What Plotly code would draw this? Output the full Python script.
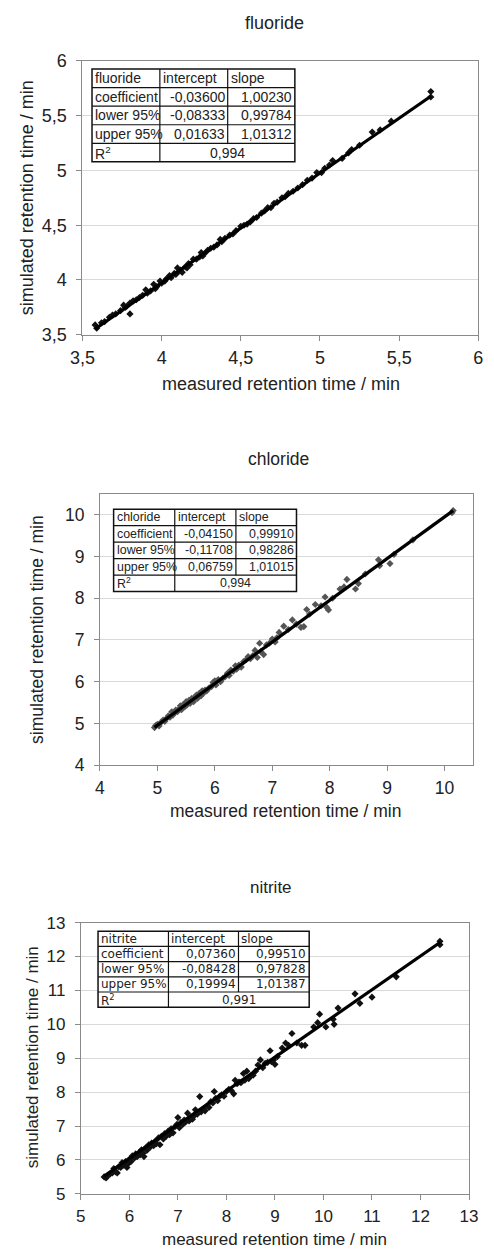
import plotly.graph_objects as go

W, H = 494, 1260

# ---------------- data ----------------
fluoride_measured = [3.58, 3.59, 3.62, 3.64, 3.67, 3.69, 3.71, 3.74, 3.76, 3.77, 3.78, 3.80, 3.80, 3.82, 3.84,
                     3.86, 3.88, 3.90, 3.91, 3.93, 3.95, 3.96, 3.97, 3.99, 4.00, 4.02, 4.03, 4.05, 4.06, 4.08,
                     4.09, 4.10, 4.11, 4.12, 4.13, 4.15, 4.16, 4.17, 4.18, 4.20, 4.22, 4.24, 4.25, 4.26, 4.27,
                     4.29, 4.31, 4.33, 4.35, 4.37, 4.38, 4.40, 4.43, 4.45, 4.47, 4.50, 4.52, 4.54, 4.56, 4.58,
                     4.60, 4.63, 4.65, 4.67, 4.69, 4.71, 4.73, 4.76, 4.78, 4.80, 4.83, 4.86, 4.89, 4.92, 4.95,
                     4.98, 5.01, 5.03, 5.06, 5.08, 5.14, 5.18, 5.20, 5.25, 5.33, 5.38, 5.45, 5.70, 5.70]
fluoride_simulated = [3.59, 3.56, 3.61, 3.62, 3.66, 3.68, 3.69, 3.72, 3.77, 3.75, 3.76, 3.69, 3.79, 3.81, 3.82,
                      3.84, 3.86, 3.91, 3.88, 3.90, 3.96, 3.92, 3.94, 3.99, 3.97, 3.99, 4.01, 4.04, 4.02, 4.06,
                      4.05, 4.11, 4.08, 4.09, 4.07, 4.12, 4.11, 4.15, 4.14, 4.19, 4.19, 4.21, 4.25, 4.22, 4.24,
                      4.27, 4.29, 4.30, 4.32, 4.37, 4.35, 4.38, 4.41, 4.42, 4.45, 4.49, 4.50, 4.51, 4.53, 4.56,
                      4.57, 4.61, 4.63, 4.66, 4.66, 4.70, 4.71, 4.75, 4.76, 4.79, 4.81, 4.84, 4.87, 4.91, 4.93,
                      4.98, 4.98, 5.02, 5.05, 5.09, 5.11, 5.16, 5.19, 5.23, 5.35, 5.37, 5.45, 5.72, 5.67]

chloride_measured = [4.95, 4.97, 5.00, 5.03, 5.06, 5.10, 5.13, 5.16, 5.19, 5.22, 5.25, 5.27, 5.30, 5.32, 5.35,
                     5.38, 5.40, 5.42, 5.45, 5.48, 5.50, 5.52, 5.55, 5.57, 5.60, 5.63, 5.65, 5.68, 5.70, 5.73,
                     5.76, 5.78, 5.80, 5.83, 5.86, 5.90, 5.94, 5.97, 6.00, 6.02, 6.06, 6.10, 6.14, 6.18, 6.22,
                     6.25, 6.28, 6.32, 6.36, 6.38, 6.42, 6.46, 6.50, 6.54, 6.58, 6.62, 6.66, 6.70, 6.74, 6.78,
                     6.80, 6.85, 6.90, 6.95, 7.00, 7.05, 7.08, 7.12, 7.20, 7.28, 7.35, 7.42, 7.50, 7.55, 7.60,
                     7.65, 7.75, 7.85, 7.92, 7.95, 7.98, 8.05, 8.18, 8.25, 8.30, 8.45, 8.50, 8.62, 8.85, 8.87,
                     9.05, 9.12, 9.45, 10.13, 10.15]
chloride_simulated = [4.90, 4.95, 4.98, 4.94, 5.02, 5.08, 5.05, 5.12, 5.18, 5.15, 5.28, 5.20, 5.25, 5.32, 5.28,
                      5.35, 5.42, 5.33, 5.45, 5.40, 5.52, 5.45, 5.55, 5.48, 5.60, 5.52, 5.62, 5.68, 5.60, 5.72,
                      5.66, 5.78, 5.72, 5.80, 5.78, 5.85, 5.88, 5.98, 6.02, 5.92, 6.05, 6.00, 6.08, 6.12, 6.20,
                      6.15, 6.28, 6.25, 6.38, 6.30, 6.40, 6.35, 6.48, 6.52, 6.60, 6.55, 6.62, 6.75, 6.58, 6.92,
                      6.72, 6.65, 6.88, 6.92, 7.02, 6.95, 7.05, 7.18, 7.33, 7.25, 7.48, 7.38, 7.30, 7.32, 7.73,
                      7.62, 7.85, 7.82, 8.03, 7.78, 7.72, 8.00, 8.22, 8.27, 8.45, 8.22, 8.35, 8.58, 8.92, 8.78,
                      8.83, 9.05, 9.40, 10.05, 10.10]

nitrite_measured = [5.48, 5.52, 5.55, 5.60, 5.65, 5.68, 5.72, 5.75, 5.78, 5.82, 5.85, 5.88, 5.92, 5.95, 5.98,
                    6.00, 6.03, 6.06, 6.10, 6.13, 6.16, 6.20, 6.22, 6.25, 6.28, 6.30, 6.33, 6.36, 6.40, 6.43,
                    6.46, 6.50, 6.53, 6.56, 6.60, 6.63, 6.66, 6.70, 6.73, 6.76, 6.80, 6.83, 6.86, 6.90, 6.94,
                    6.98, 7.00, 7.03, 7.06, 7.10, 7.13, 7.16, 7.20, 7.23, 7.27, 7.30, 7.33, 7.36, 7.40, 7.45,
                    7.48, 7.52, 7.56, 7.60, 7.64, 7.68, 7.72, 7.75, 7.78, 7.82, 7.86, 7.90, 7.95, 8.00, 8.05,
                    8.10, 8.15, 8.18, 8.22, 8.26, 8.30, 8.35, 8.38, 8.42, 8.46, 8.50, 8.55, 8.60, 8.65, 8.70,
                    8.75, 8.80, 8.85, 8.90, 8.93, 8.97, 9.00, 9.05, 9.15, 9.22, 9.28, 9.35, 9.45, 9.55, 9.62,
                    9.80, 9.88, 9.92, 10.05, 10.20, 10.22, 10.30, 10.65, 10.75, 11.00, 11.50, 12.40, 12.40]
nitrite_simulated = [5.50, 5.47, 5.53, 5.58, 5.62, 5.75, 5.65, 5.62, 5.80, 5.78, 5.92, 5.85, 5.95, 5.78, 5.90,
                     6.02, 5.95, 6.12, 6.05, 6.18, 6.10, 6.22, 6.15, 6.30, 6.20, 6.10, 6.35, 6.28, 6.45, 6.38,
                     6.50, 6.42, 6.55, 6.48, 6.65, 6.45, 6.70, 6.62, 6.78, 6.70, 6.85, 6.75, 6.92, 6.80, 6.98,
                     7.05, 7.25, 6.95, 7.10, 7.05, 7.18, 7.12, 7.38, 7.15, 7.25, 7.20, 7.30, 7.48, 7.35, 7.87,
                     7.42, 7.50, 7.45, 7.60, 7.55, 7.72, 7.68, 8.02, 7.82, 7.75, 7.88, 7.92, 7.88, 8.02, 8.08,
                     8.05, 7.95, 8.35, 8.25, 8.30, 8.28, 8.55, 8.35, 8.62, 8.40, 8.48, 8.50, 8.62, 8.80, 8.95,
                     8.72, 8.85, 8.88, 9.22, 8.90, 8.95, 8.82, 9.05, 9.30, 9.45, 9.38, 9.73, 9.45, 9.38, 9.38,
                     9.92, 10.05, 10.30, 9.92, 10.15, 10.00, 10.48, 10.90, 10.62, 10.80, 11.40, 12.45, 12.35]

ion_names = ["fluoride", "chloride", "nitrite"]
table_header = ["intercept", "slope"]
table_row_labels = ["coefficient", "lower 95%", "upper 95%"]
intercepts = [["-0,03600", "-0,08333", "0,01633"], ["-0,04150", "-0,11708", "0,06759"], ["0,07360", "-0,08428", "0,19994"]]
slopes = [["1,00230", "0,99784", "1,01312"], ["0,99910", "0,98286", "1,01015"], ["0,99510", "0,97828", "1,01387"]]
r_squared = ["0,994", "0,994", "0,991"]
coef_intercept = [-0.03600, -0.04150, 0.07360]
coef_slope = [1.00230, 0.99910, 0.99510]

x_title = "measured retention time / min"
y_title = "simulated retention time / min"

# ---------------- layout geometry (pixels) ----------------
panels = [
    dict(x=(72.7, 487.0), y=(51.7, 330.0), xr=[3.5, 6], yr=[3.5, 6], dt=0.5, t0=3.5,
         title=(274, 13), xt=(280, 380), yt=(15, 191), fs=18, mcolor="#111111",
         tx=[82.7, 153.7, 224.7, 295.0], ty=(60.0, 154.3), tfont=("Liberation Sans", 14)),
    dict(x=(91.0, 481.7), y=(491.7, 767.3), xr=[4, 10.5], yr=[4, 10.5], dt=1, t0=4,
         title=(278, 456), xt=(286, 814), yt=(25, 629), fs=17.5, mcolor="#555555",
         tx=[105.3, 169.3, 233.3, 296.7], ty=(507.3, 591.0), tfont=("Liberation Sans", 12.4)),
    dict(x=(71.0, 477.3), y=(927.3, 1203.0), xr=[5, 13], yr=[5, 13], dt=1, t0=5,
         title=(270, 892), xt=(274, 1249), yt=(20, 1064), fs=17, mcolor="#111111",
         tx=[89.0, 162.7, 236.0, 310.0], ty=(936.0, 1013.3), tfont=("DejaVu Sans", 12)),
]

def px(x):
    return x / W

def py(y):
    return 1 - y / H

FONT = "Liberation Sans, Arial, sans-serif"
TXT = "#222222"

data_x = [fluoride_measured, chloride_measured, nitrite_measured]
data_y = [fluoride_simulated, chloride_simulated, nitrite_simulated]

fig = go.Figure()
shapes = []
annotations = []
layout_axes = {}

for i, p in enumerate(panels):
    n = i + 1
    xa = "x" if n == 1 else f"x{n}"
    ya = "y" if n == 1 else f"y{n}"
    xs, ys = data_x[i], data_y[i]
    fig.add_trace(go.Scatter(x=xs, y=ys, mode="markers", xaxis=xa, yaxis=ya,
                             marker=dict(symbol="diamond", size=5.5, color=p["mcolor"]),
                             showlegend=False, hoverinfo="x+y"))
    lx = [min(xs), max(xs)]
    ly = [coef_intercept[i] + coef_slope[i] * v for v in lx]
    fig.add_trace(go.Scatter(x=lx, y=ly, mode="lines", xaxis=xa, yaxis=ya,
                             line=dict(color="black", width=3.2), showlegend=False, hoverinfo="skip"))

    common = dict(showline=True, linecolor="#8a8a8a", linewidth=1, mirror=True,
                  ticks="outside", ticklen=5, tickcolor="#8a8a8a", zeroline=False,
                  tickfont=dict(family=FONT, size=p["fs"], color=TXT),
                  dtick=p["dt"], tick0=p["t0"], fixedrange=True)
    layout_axes[("xaxis" if n == 1 else f"xaxis{n}")] = dict(
        common, domain=[px(p["x"][0]), px(p["x"][1])], range=p["xr"], showgrid=False,
        anchor=ya, ticklabelstandoff=2)
    layout_axes[("yaxis" if n == 1 else f"yaxis{n}")] = dict(
        common, domain=[py(p["y"][1]), py(p["y"][0])], range=p["yr"], showgrid=True,
        gridcolor="#d9d9d9", gridwidth=1, anchor=xa, ticklabelstandoff=6)

    # titles
    annotations.append(dict(text=ion_names[i], x=px(p["title"][0]), y=py(p["title"][1]),
                            xref="paper", yref="paper", showarrow=False, xanchor="center", yanchor="middle",
                            font=dict(family=FONT, size=p["fs"], color=TXT)))
    annotations.append(dict(text=x_title, x=px(p["xt"][0]), y=py(p["xt"][1]),
                            xref="paper", yref="paper", showarrow=False, xanchor="center", yanchor="middle",
                            font=dict(family=FONT, size=p["fs"], color=TXT)))
    annotations.append(dict(text=y_title, x=px(p["yt"][0]), y=py(p["yt"][1]), textangle=-90,
                            xref="paper", yref="paper", showarrow=False, xanchor="center", yanchor="middle",
                            font=dict(family=FONT, size=p["fs"], color=TXT)))

    # table
    tx = p["tx"]
    t0, t1 = p["ty"]
    rh = (t1 - t0) / 5
    rows_y = [t0 + k * rh for k in range(6)]
    shapes.append(dict(type="rect", xref="paper", yref="paper", x0=px(tx[0]), x1=px(tx[3]),
                       y0=py(t0), y1=py(t1), line=dict(color="#111111", width=1.5), fillcolor="white",
                       layer="above"))
    for k in range(1, 5):
        shapes.append(dict(type="line", xref="paper", yref="paper", x0=px(tx[0]), x1=px(tx[3]),
                           y0=py(rows_y[k]), y1=py(rows_y[k]), line=dict(color="#111111", width=1.2)))
    shapes.append(dict(type="line", xref="paper", yref="paper", x0=px(tx[1]), x1=px(tx[1]),
                       y0=py(t0), y1=py(t1), line=dict(color="#111111", width=1.2)))
    shapes.append(dict(type="line", xref="paper", yref="paper", x0=px(tx[2]), x1=px(tx[2]),
                       y0=py(t0), y1=py(rows_y[4]), line=dict(color="#111111", width=1.2)))

    tf = dict(family=p["tfont"][0], size=p["tfont"][1], color=TXT)
    pad = 2

    def cell(text, x, y, anchor):
        annotations.append(dict(text=text, x=px(x), y=py(y), xref="paper", yref="paper",
                                showarrow=False, xanchor=anchor, yanchor="middle", font=tf,
                                borderpad=0))

    cy = [(rows_y[k] + rows_y[k + 1]) / 2 for k in range(5)]
    cell(ion_names[i], tx[0] + pad, cy[0], "left")
    cell(table_header[0], tx[1] + pad, cy[0], "left")
    cell(table_header[1], tx[2] + pad, cy[0], "left")
    for r in range(3):
        cell(table_row_labels[r], tx[0] + pad, cy[r + 1], "left")
        cell(intercepts[i][r], tx[2] - pad, cy[r + 1], "right")
        cell(slopes[i][r], tx[3] - pad, cy[r + 1], "right")
    cell("R<sup>2</sup>", tx[0] + pad, cy[4], "left")
    cell(r_squared[i], (tx[1] + tx[3]) / 2, cy[4], "center")

fig.update_layout(width=W, height=H, margin=dict(l=0, r=0, t=0, b=0),
                  paper_bgcolor="white", plot_bgcolor="white", separators=",.",
                  shapes=shapes, annotations=annotations, **layout_axes)

fig.write_html("out.html")
